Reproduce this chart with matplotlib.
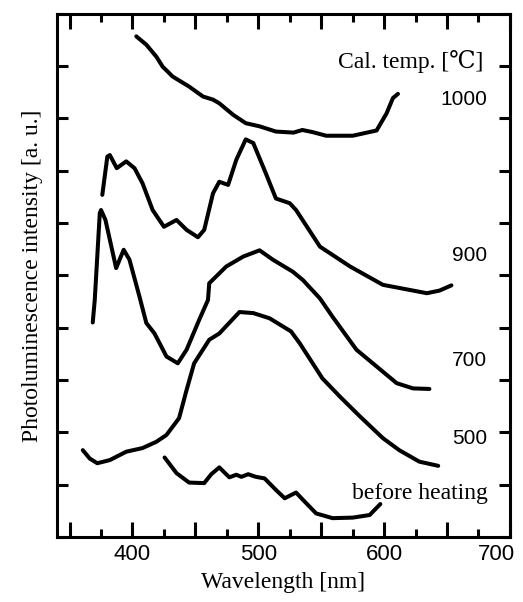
import numpy as np
import matplotlib
matplotlib.use("Agg")
import matplotlib.pyplot as plt
import matplotlib.transforms as mtransforms
from matplotlib.ticker import MultipleLocator, FuncFormatter

# spectra (wavelength nm, intensity in arbitrary offset units)
wl_1000 = [403, 411, 419, 424, 432, 445, 456, 464, 469, 480, 490, 501, 514, 528,
           535, 543, 554, 575, 594, 602, 607, 611]
pl_1000 = [9.57, 9.41, 9.18, 8.99, 8.80, 8.61, 8.42, 8.36, 8.29, 8.07, 7.91, 7.85,
           7.75, 7.73, 7.78, 7.74, 7.67, 7.67, 7.77, 8.10, 8.39, 8.47]

wl_900 = [376, 380, 382, 387.5, 395, 401.6, 408, 416, 425, 435, 443, 452, 457, 464,
          469, 476, 482.5, 490, 496, 506, 514, 525, 530, 549, 573, 599, 634, 644, 653.5]
pl_900 = [6.54, 7.27, 7.30, 7.05, 7.18, 7.05, 6.76, 6.25, 5.93, 6.06, 5.87, 5.73,
          5.87, 6.57, 6.79, 6.73, 7.21, 7.60, 7.53, 6.95, 6.47, 6.38, 6.25, 5.55,
          5.17, 4.82, 4.66, 4.71, 4.81]

wl_700 = [368.4, 370, 374, 375, 378.5, 387, 393, 397.6, 405.6, 411, 417.5, 427, 436,
          443, 453, 460, 461, 474.5, 488, 501, 511.6, 527.5, 535.5, 549, 559, 578,
          594, 610, 623, 636]
pl_700 = [4.10, 4.53, 6.19, 6.25, 6.06, 5.14, 5.49, 5.30, 4.59, 4.09, 3.89, 3.45,
          3.32, 3.58, 4.15, 4.53, 4.85, 5.17, 5.36, 5.48, 5.30, 5.07, 4.91, 4.56,
          4.21, 3.58, 3.26, 2.94, 2.84, 2.83]

wl_500 = [360.5, 366, 372, 382, 395, 408, 419, 427, 437, 443, 449, 461, 469, 485,
          496, 509, 526, 533, 551, 565, 581, 599, 612, 628, 643]
pl_500 = [1.66, 1.50, 1.41, 1.47, 1.63, 1.70, 1.82, 1.95, 2.27, 2.81, 3.32, 3.77,
          3.89, 4.30, 4.28, 4.18, 3.93, 3.70, 3.03, 2.68, 2.30, 1.89, 1.66, 1.44, 1.36]

wl_raw = [425.5, 435, 445, 457, 462.6, 469, 477, 482.5, 486.5, 492, 498, 505, 514,
          521, 530, 535.5, 546, 559, 575, 588.5, 597]
pl_raw = [1.52, 1.22, 1.04, 1.03, 1.20, 1.33, 1.14, 1.19, 1.15, 1.20, 1.15, 1.12,
          0.90, 0.74, 0.85, 0.71, 0.45, 0.36, 0.37, 0.42, 0.63]

labels = ["1000", "900", "700", "500", "before heating"]
label_y = [8.36, 5.39, 3.38, 1.89, 0.84]

serif = ["Liberation Serif", "DejaVu Serif"]
sans = ["Liberation Sans", "DejaVu Sans"]

fig = plt.figure(figsize=(5.23, 6.02), dpi=100)
ax = fig.add_axes([0.109, 0.108, 0.866, 0.869])

for wl, pl in [(wl_1000, pl_1000), (wl_900, pl_900), (wl_700, pl_700),
               (wl_500, pl_500), (wl_raw, pl_raw)]:
    ax.plot(wl, pl, color="black", lw=2.9, solid_capstyle="round",
            solid_joinstyle="round")

ax.set_xlim(340, 700)
ax.set_ylim(0, 10)

ax.xaxis.set_major_locator(MultipleLocator(50))
ax.xaxis.set_minor_locator(MultipleLocator(25))
ax.xaxis.set_major_formatter(FuncFormatter(
    lambda v, p: "%d" % v if abs(v % 100) < 1e-6 else ""))
ax.yaxis.set_major_locator(MultipleLocator(1))
ax.tick_params(axis="x", which="major", direction="in", length=11, width=2.2,
               top=True, pad=5, labelsize=16)
ax.tick_params(axis="x", which="minor", direction="in", length=6, width=2.2, top=True)
ax.tick_params(axis="y", which="major", direction="in", length=8, width=2.2,
               right=True, left=True, labelleft=False)
fig.canvas.draw()
for lab in ax.get_xticklabels():
    lab.set_family(sans)
    if lab.get_text() == "700":
        lab.set_transform(lab.get_transform() + mtransforms.ScaledTranslation(
            -13 / 100, 0, fig.dpi_scale_trans))
for s in ax.spines.values():
    s.set_linewidth(2.2)

ax.set_xlabel("Wavelength [nm]", family=serif, fontsize=17, labelpad=5)
ax.set_ylabel("Photoluminescence intensity [a. u.]", family=serif, fontsize=17,
              labelpad=10)

ax.text(678.5, 9.08, "Cal. temp. [℃]", family=serif, fontsize=17, ha="right",
        va="center")
for lab, y in zip(labels, label_y):
    if lab == "before heating":
        ax.text(682.5, y, lab, family=serif, fontsize=17, ha="right", va="center")
    else:
        ax.text(682, y, lab, family=sans, fontsize=15, ha="right", va="center")

fig.savefig("out.png", dpi=100)
